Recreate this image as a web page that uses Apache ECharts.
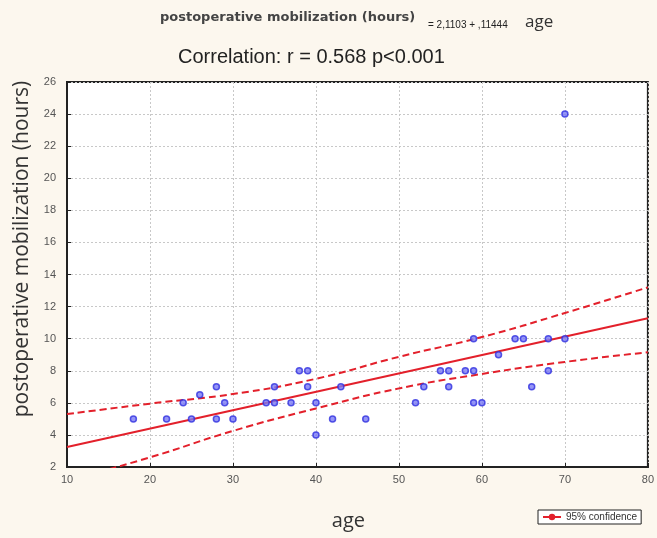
<!DOCTYPE html>
<html>
<head>
<meta charset="utf-8">
<script src="https://cdn.jsdelivr.net/npm/echarts@6/dist/echarts.min.js"></script>
<style>
  html, body { margin: 0; padding: 0; background: #fcf7ee; }
  #chart { width: 657px; height: 538px; }
</style>
</head>
<body>
<div id="chart"></div>
<script>
// observed points (age, hours)
var ages  = [18, 22, 24, 25, 26, 28, 28, 29, 30, 34, 35, 35, 37, 38, 39, 39, 40, 40, 42, 43, 46,
             52, 53, 55, 56, 56, 58, 59, 59, 59, 60, 62, 64, 65, 66, 68, 68, 70, 70];
var hours = [5, 5, 6, 5, 6.5, 7, 5, 6, 5, 6, 6, 7, 6, 8, 8, 7, 6, 4, 5, 7, 5,
             6, 7, 8, 8, 7, 8, 8, 10, 6, 6, 9, 10, 10, 7, 10, 8, 10, 24];

var fitX = [10, 80];
var fitY = [3.25, 11.27];

// 95% confidence band
var bandX = [10, 20, 30, 40, 50, 60, 70, 80];
var upperY = [5.3, 5.95, 6.55, 7.5, 8.87, 10.1, 11.6, 13.2];
var lowerY = [1.15, 2.6, 4.25, 5.65, 6.9, 7.8, 8.55, 9.15];

function pairs(xs, ys) {
  var out = [];
  for (var i = 0; i < xs.length; i++) out.push([xs[i], ys[i]]);
  return out;
}

var narrow = "'Liberation Sans Narrow', 'Liberation Sans', Arial, sans-serif";
var red = '#e3202b';

var option = {
  backgroundColor: '#fcf7ee',
  animation: false,
  title: [
    {
      text: 'postoperative mobilization (hours)',
      left: 155, top: 6,
      textStyle: { fontFamily: 'DejaVu Sans', fontSize: 13, fontWeight: 'bold', color: '#444' }
    },
    {
      text: '= 2,1103 + ,11444',
      left: 423, top: 15,
      textStyle: { fontFamily: narrow, fontSize: 10, fontWeight: 'normal', color: '#222' }
    },
    {
      text: 'age',
      left: 520, top: 9,
      textStyle: { fontFamily: 'Open Sans', fontSize: 17, fontWeight: 'normal', color: '#333' }
    },
    {
      text: 'Correlation: r = 0.568 p<0.001',
      left: 173, top: 42,
      textStyle: { fontFamily: narrow, fontSize: 20, fontWeight: 'normal', color: '#222' }
    }
  ],
  graphic: [
    {
      type: 'text',
      x: 22, y: 249, rotation: Math.PI / 2,
      style: {
        text: 'postoperative mobilization (hours)',
        font: "21px 'Open Sans'", fill: '#333',
        align: 'center', verticalAlign: 'middle'
      }
    }
  ],
  legend: {
    data: ['95% confidence'],
    left: 538, top: 510,
    backgroundColor: '#fff',
    borderColor: '#222', borderWidth: 1, borderRadius: 0,
    padding: [2, 4],
    itemWidth: 18, itemHeight: 8, itemGap: 4,
    textStyle: { fontFamily: narrow, fontSize: 10, color: '#333' }
  },
  grid: {
    left: 67, right: 9, top: 82, bottom: 71,
    show: true, backgroundColor: '#fff',
    borderColor: '#222', borderWidth: 2
  },
  xAxis: {
    type: 'value', min: 10, max: 80, interval: 10,
    name: 'age', nameLocation: 'middle', nameGap: 44,
    nameTextStyle: { fontFamily: 'Open Sans', fontSize: 20, color: '#333', padding: [0, 18, 0, 0] },
    axisLine: { lineStyle: { color: '#222', width: 2 } },
    axisTick: { inside: true, length: 4, lineStyle: { color: '#222' } },
    axisLabel: { fontFamily: narrow, fontSize: 11, color: '#555', margin: 7 },
    splitLine: { show: true, lineStyle: { color: '#c8c8c8', type: [2, 2] } }
  },
  yAxis: {
    type: 'value', min: 2, max: 26, interval: 2,
    axisLine: { lineStyle: { color: '#222', width: 2 } },
    axisTick: { inside: true, length: 4, lineStyle: { color: '#222' } },
    axisLabel: { fontFamily: narrow, fontSize: 11, color: '#555', margin: 11 },
    splitLine: { show: true, lineStyle: { color: '#c8c8c8', type: [2, 2] } }
  },
  series: [
    {
      name: 'upper',
      type: 'line', smooth: true, symbol: 'none', clip: true,
      data: pairs(bandX, upperY),
      lineStyle: { color: red, width: 2, type: [7, 4] },
      z: 2
    },
    {
      name: 'lower',
      type: 'line', smooth: true, symbol: 'none', clip: true,
      data: pairs(bandX, lowerY),
      lineStyle: { color: red, width: 2, type: [7, 4] },
      z: 2
    },
    {
      name: '95% confidence',
      type: 'line', symbol: 'none', clip: true,
      data: pairs(fitX, fitY),
      itemStyle: { color: red },
      lineStyle: { color: red, width: 2 },
      z: 3
    },
    {
      name: 'points',
      type: 'scatter', symbol: 'circle', symbolSize: 6,
      data: pairs(ages, hours),
      itemStyle: { color: '#7b7bf4', borderColor: '#2f2fe0', borderWidth: 1.5 },
      z: 4
    }
  ]
};

var chart = echarts.init(document.getElementById('chart'));
chart.setOption(option);
</script>
</body>
</html>
